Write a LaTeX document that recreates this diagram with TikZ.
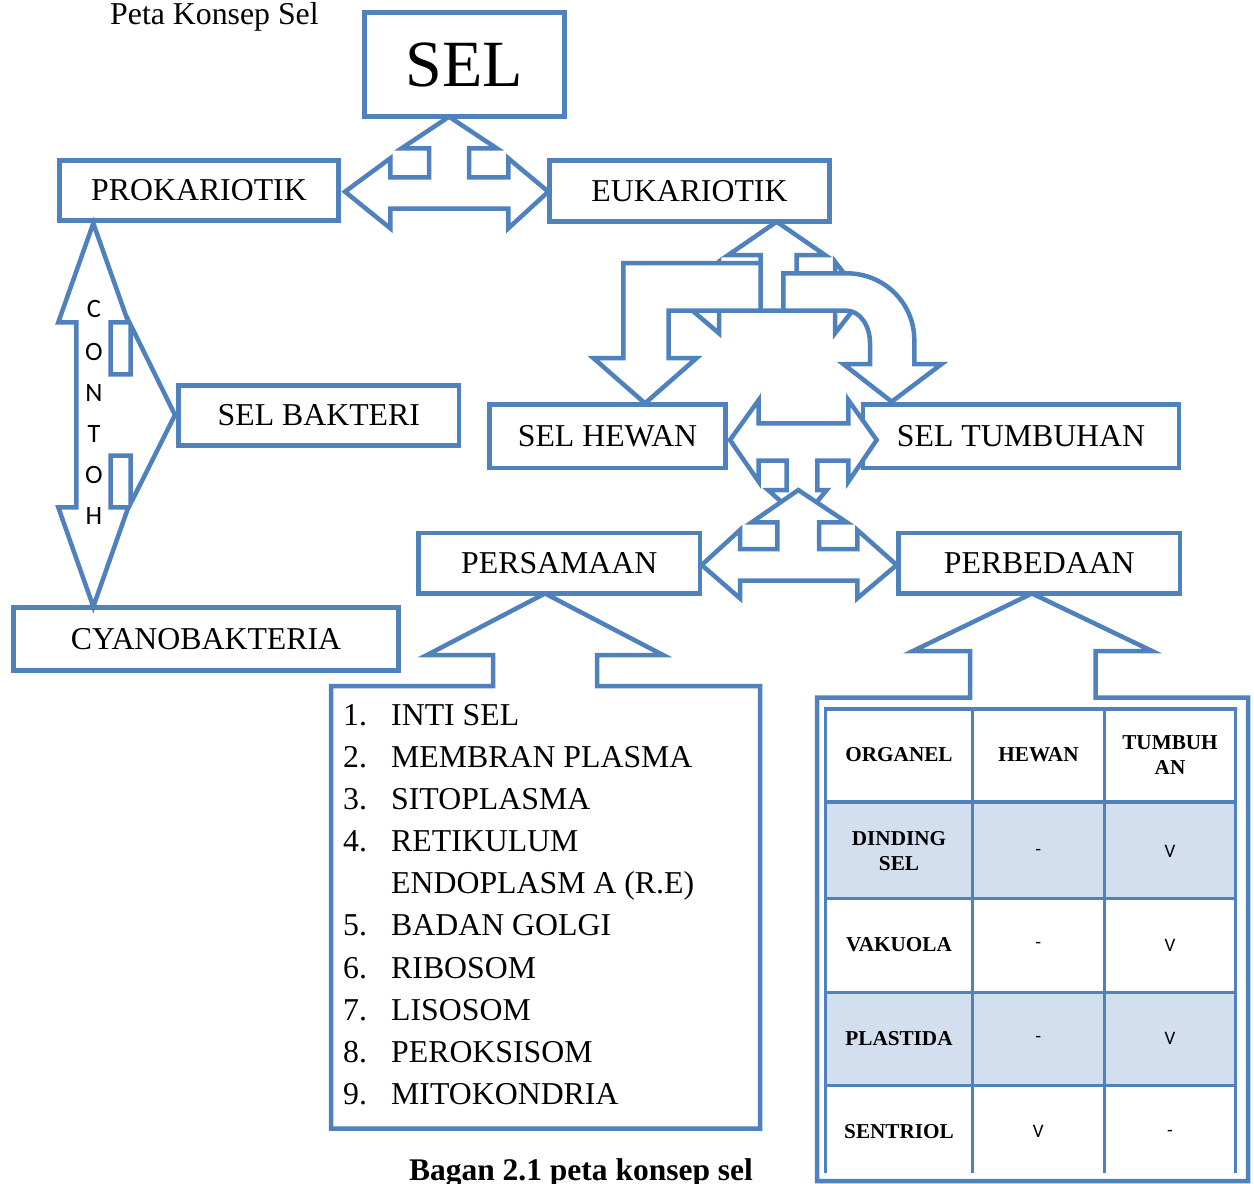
\documentclass[tikz,border=0pt]{standalone}
\usepackage{fontspec}
\setmainfont{Liberation Serif}
\newfontfamily\carl{Carlito}
\definecolor{blu}{RGB}{79,129,189}
\definecolor{rowfill}{RGB}{211,223,238}
\begin{document}
\begin{tikzpicture}[x=1pt,y=-1pt,line join=miter,
  box/.style={draw=blu, line width=4.5pt, fill=white, inner sep=0pt, font=\fontsize{31.8}{36}\selectfont},
  blockarrow/.style={draw=blu, line width=4.5pt, fill=white},
  tline/.style={draw=blu, line width=3.3pt},
  thead/.style={font=\bfseries\fontsize{21.2}{25}\selectfont, align=center, inner sep=0pt},
  tmark/.style={font=\carl\fontsize{19}{20}\selectfont, inner sep=0pt},
  listtxt/.style={font=\fontsize{31.8}{36}\selectfont, anchor=base west, inner sep=0pt},
  contoh/.style={font=\carl\fontsize{26.5}{28}\selectfont, inner sep=0pt}]
\useasboundingbox[fill=white] (0,0) rectangle (1254,1184);

% title
\node[font=\fontsize{31.8}{36}\selectfont, anchor=base west, inner sep=0pt] (title) at (110,24.5) {Peta Konsep Sel};

% boxes
\node[box, minimum width=200pt, minimum height=104pt, font=\fontsize{66}{70}\selectfont] (sel) at (464.6,64.6) {SEL};
\node[box, minimum width=279pt, minimum height=60pt] (prok) at (199,190.5) {PROKARIOTIK};
\node[box, minimum width=280pt, minimum height=61pt] (euk) at (689.5,191) {EUKARIOTIK};
\node[box, minimum width=280.5pt, minimum height=60pt] (bakt) at (318.8,415.5) {SEL BAKTERI};
\node[box, minimum width=385pt, minimum height=63pt] (cyano) at (206,639) {CYANOBAKTERIA};
\node[box, minimum width=236pt, minimum height=63.5pt] (hewan) at (607.5,436.3) {SEL HEWAN};
\node[box, minimum width=316pt, minimum height=63.5pt] (tumb) at (1021,436.3) {SEL TUMBUHAN};
\node[box, minimum width=281.5pt, minimum height=60.5pt] (persa) at (559.3,563) {PERSAMAAN};
\node[box, minimum width=281.5pt, minimum height=60.5pt] (perbe) at (1039.3,563) {PERBEDAAN};

% SEL -> PROKARIOTIK / EUKARIOTIK
\draw[blockarrow] (345,191.7) -- (390.3,158.3) -- (390.3,177.3) -- (429,177.3) -- (429,148.3) -- (401.7,148.3) -- (449,116.7) -- (496.7,148.3) -- (469,148.3) -- (469,177.3) -- (508.3,177.3) -- (508.3,158.3) -- (548.3,191.7) -- (508.3,228.3) -- (508.3,208.7) -- (390.3,208.7) -- (390.3,228.3) -- cycle;

% CONTOH arrow
\draw[blockarrow] (93.3,223.3) -- (128.3,322.3) -- (110.7,322.3) -- (110.7,374.3) -- (130.7,374.3) -- (130.7,325) -- (175,415) -- (130.7,503.3) -- (130.7,455.7) -- (110.7,455.7) -- (110.7,507.3) -- (128.3,507.3) -- (93.3,606.7) -- (58.3,507.3) -- (76.3,507.3) -- (76.3,322.3) -- (58.3,322.3) -- cycle;
\foreach \ch/\yy [count=\i] in {C/309,O/352,N/393,T/434,O/475,H/516}
  \node[contoh] (ct\i) at (94,\yy) {\ch};

% EUKARIOTIK underlying arrow
\draw[blockarrow] (677,297.5) -- (719,261.7) -- (719,285) -- (760.7,285) -- (760.7,255) -- (728.3,255) -- (776.7,221.7) -- (825,255) -- (796.7,255) -- (796.7,285) -- (835,285) -- (835,261.7) -- (862.8,297.5) -- (835,333.3) -- (835,310.7) -- (719,310.7) -- (719,333.3) -- cycle;
% bent arrow to SEL HEWAN
\draw[blockarrow] (760.7,263) -- (623.3,263) -- (623.3,358) -- (593.3,358) -- (645,403.3) -- (696.7,358) -- (668.7,358) -- (668.7,310.7) -- (760.7,310.7) -- cycle;
% curved arrow to SEL TUMBUHAN
\draw[blockarrow] (783.3,273.3) -- (846.7,273.3) .. controls (884,273.3) and (914.3,303) .. (914.3,340) -- (914.3,364) -- (941.7,364) -- (891.7,401.7) -- (843.3,364) -- (870,364) -- (870,343) .. controls (870,325) and (859.4,310.7) .. (846.7,310.7) -- (783.3,310.7) -- cycle;

% SEL HEWAN <-> SEL TUMBUHAN (with down arrow)
\draw[blockarrow] (730,440) -- (758.7,400) -- (758.7,423.3) -- (848.3,423.3) -- (848.3,400) -- (876.7,440) -- (848.3,481.7) -- (848.3,460.7) -- (817.3,460.7) -- (817.3,490) -- (826.7,490) -- (802,520) -- (768,490) -- (786.7,490) -- (786.7,460.7) -- (758.7,460.7) -- (758.7,481.7) -- cycle;

% PERSAMAAN <-> PERBEDAAN (with up arrow)
\draw[blockarrow] (701.7,565) -- (740,530) -- (740,549) -- (777.3,549) -- (777.3,522.3) -- (751.7,522.3) -- (798.3,490) -- (846.7,522.3) -- (819,522.3) -- (819,549) -- (857.3,549) -- (857.3,530) -- (896.7,565) -- (857.3,598.3) -- (857.3,580.7) -- (740,580.7) -- (740,598.3) -- cycle;

% list callout
\draw[blockarrow] (331,686) -- (493,686) -- (493,655) -- (427,655) -- (545,593.5) -- (663,655) -- (597,655) -- (597,686) -- (760,686) -- (760,1128.5) -- (331,1128.5) -- cycle;
\foreach \num/\txt/\yy [count=\i] in {1./INTI SEL/725, 2./MEMBRAN PLASMA/767, 3./SITOPLASMA/809, 4./RETIKULUM/851, 5./BADAN GOLGI/935, 6./RIBOSOM/978, 7./LISOSOM/1020, 8./PEROKSISOM/1062, 9./MITOKONDRIA/1104}{
  \node[listtxt] (num\i) at (343,\yy) {\num};
  \node[listtxt] (item\i) at (391,\yy) {\txt};
}
\node[listtxt] (item4b) at (391,893) {ENDOPLASM A (R.E)};

% table callout
\draw[blockarrow] (817,697.5) -- (970,697.5) -- (970,651) -- (913,651) -- (1032,593.5) -- (1152,651) -- (1095.5,651) -- (1095.5,697.5) -- (1248,697.5) -- (1248,1181) -- (817,1181) -- cycle;

% table
\fill[rowfill] (825.5,802) rectangle (1235.5,898.5);
\fill[rowfill] (825.5,992.5) rectangle (1235.5,1085.5);
\draw[tline] (825.5,1173) -- (825.5,709) -- (1235.5,709) -- (1235.5,1173);
\draw[tline] (972.5,709) -- (972.5,1173) (1104.5,709) -- (1104.5,1173);
\draw[tline] (825.5,802) -- (1235.5,802) (825.5,898.5) -- (1235.5,898.5) (825.5,992.5) -- (1235.5,992.5) (825.5,1085.5) -- (1235.5,1085.5);

\node[thead] (h1) at (899,755) {ORGANEL};
\node[thead] (h2) at (1038.5,755) {HEWAN};
\node[thead] (h3) at (1170,755) {TUMBUH\\AN};
\node[thead] (r1) at (899,851) {DINDING\\SEL};
\node[thead] (r2) at (899,945) {VAKUOLA};
\node[thead] (r3) at (899,1039) {PLASTIDA};
\node[thead] (r4) at (899,1132) {SENTRIOL};
\node[tmark] (m11) at (1038.3,852) {-};
\node[tmark] (m12) at (1170,851) {V};
\node[tmark] (m21) at (1038.3,945.5) {-};
\node[tmark] (m22) at (1170,945) {V};
\node[tmark] (m31) at (1038.3,1039.5) {-};
\node[tmark] (m32) at (1170,1038.5) {V};
\node[tmark] (m41) at (1038.3,1131.5) {V};
\node[tmark] (m42) at (1170,1133) {-};

% caption
\node[font=\bfseries\fontsize{31.5}{36}\selectfont, anchor=base, inner sep=0pt] (cap) at (581,1180) {Bagan 2.1 peta konsep sel};
\end{tikzpicture}
\end{document}
